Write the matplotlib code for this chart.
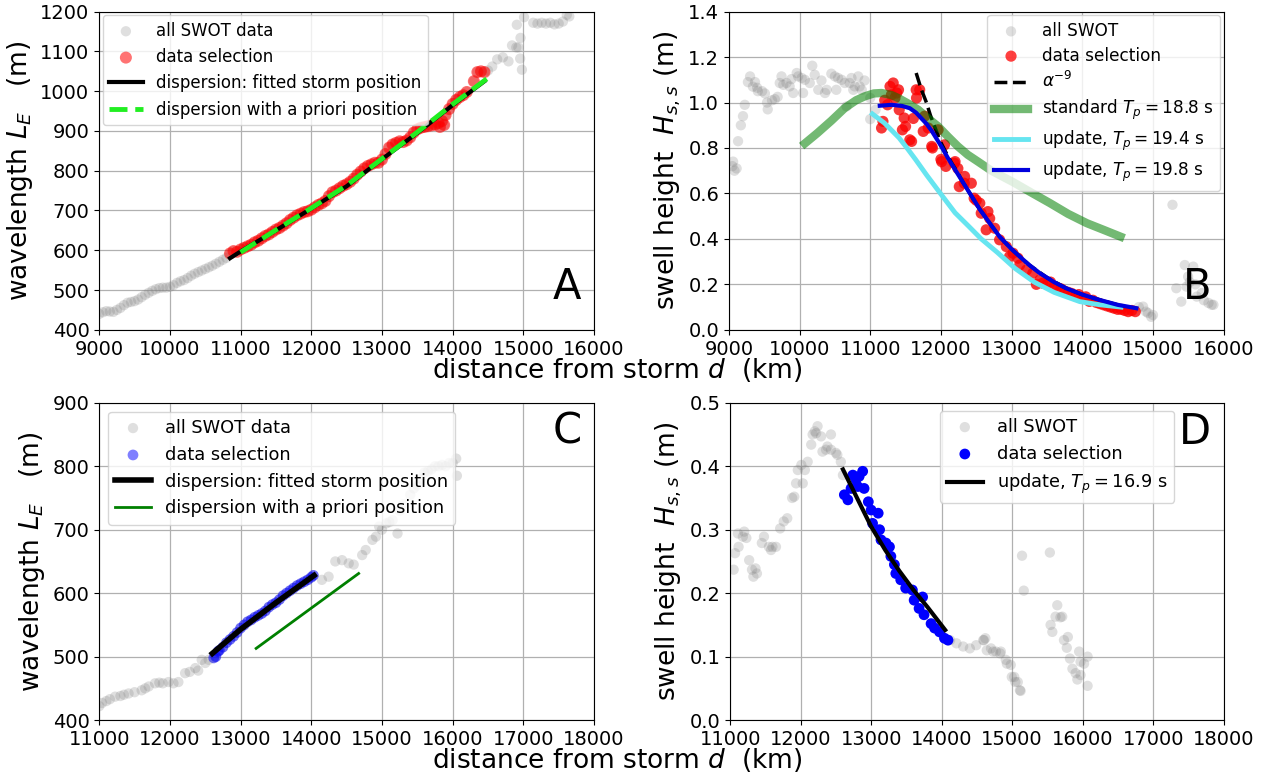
import matplotlib.pyplot as plt

# ---------------- panel A : wavelength vs distance (storm 1)
a_pre_d = [9000, 9050, 9100, 9150, 9200, 9250, 9300, 9350, 9400, 9450, 9500, 9550, 9600, 9650,
           9700, 9750, 9800, 9850, 9900, 9950, 10000, 10050, 10100, 10150, 10200, 10250, 10300,
           10350, 10400, 10450, 10500, 10550, 10600, 10650, 10700, 10750, 10800]
a_pre_L = [440, 444, 447, 446, 445, 450, 455, 462, 468, 470, 472, 476, 482, 488,
           493, 498, 502, 505, 506, 506, 508, 512, 518, 522, 525, 530, 536,
           541, 545, 549, 553, 557, 561, 566, 571, 576, 581]
a_sel_d = [10850, 10900, 10950, 11000, 11050, 11100, 11150, 11200, 11250, 11300, 11350, 11400,
           11450, 11500, 11550, 11600, 11650, 11700, 11750, 11800, 11850, 11900, 11950, 12000,
           12050, 12100, 12150, 12200, 12250, 12300, 12350, 12400, 12450, 12500, 12550, 12600,
           12650, 12700, 12750, 12800, 12850, 12900, 12950, 13000, 13050, 13100, 13150, 13200,
           13250, 13300, 13350, 13400, 13450, 13500, 13550, 13600, 13650, 13700, 13750, 13800,
           13820, 13850, 13880, 13900, 13950, 14000, 14050, 14100, 14150, 14200, 14300, 14350,
           14400, 14450]
a_sel_L = [592, 598, 596, 602, 606, 610, 614, 620, 624, 630, 636, 640,
           646, 652, 656, 662, 668, 676, 682, 688, 692, 696, 698, 702,
           708, 714, 718, 724, 736, 746, 750, 756, 762, 766, 772, 780,
           790, 798, 806, 812, 816, 820, 820, 828, 842, 858, 866, 870,
           874, 872, 876, 884, 896, 904, 908, 910, 912, 914, 916, 920,
           910, 925, 915, 940, 955, 968, 978, 985, 990, 998, 1025, 1048,
           1050, 1048]
a_post_d = [14500, 14560, 14630, 14710, 14790, 14840, 14900, 14930, 14955, 14960, 14980, 14908,
            15010, 15140, 15200, 15260, 15320, 15380, 15440, 15500, 15560, 15615, 15650]
a_post_L = [1052, 1062, 1080, 1085, 1075, 1115, 1110, 1110, 1082, 1134, 1054, 1167,
            1186, 1172, 1170, 1172, 1170, 1172, 1168, 1170, 1175, 1192, 1188]
a_fit_d = [10850, 11000, 11500, 12000, 12500, 13000, 13500, 14000, 14450]
a_fit_L = [580, 597, 650, 705, 761, 829, 895, 965, 1025]
a_prior_d = [11000, 11500, 12000, 12500, 13000, 13500, 14000, 14550]
a_prior_L = [595, 651, 706, 763, 830, 897, 967, 1040]

# ---------------- panel B : swell height vs distance (storm 1)
b_pre_d = [9050, 9060, 9080, 9110, 9130, 9170, 9200, 9225, 9270, 9300, 9340, 9370, 9400, 9410,
           9470, 9510, 9540, 9550, 9610, 9650, 9690, 9720, 9745, 9770, 9815, 9860, 9885, 9910,
           9960, 9980, 10030, 10050, 10075, 10145, 10180, 10215, 10265, 10310, 10360, 10385,
           10450, 10500, 10520, 10545, 10595, 10640, 10665, 10710, 10735, 10760, 10780, 10830,
           10850, 10880, 10920, 11000, 11075, 11000]
b_pre_H = [0.72, 0.74, 0.70, 0.71, 0.83, 0.90, 0.94, 0.99, 1.09, 1.115, 1.07, 1.09, 1.065, 1.05,
           1.05, 1.04, 1.00, 0.97, 1.01, 1.015, 1.025, 1.086, 1.115, 1.078, 1.086, 1.071, 1.103, 1.042,
           1.13, 1.115, 1.108, 1.042, 1.10, 1.086, 1.162, 1.122, 1.056, 1.097, 1.042, 1.056,
           1.127, 1.115, 1.056, 1.108, 1.10, 1.086, 0.983, 1.086, 1.108, 1.056, 1.071, 1.115,
           1.071, 1.056, 1.097, 0.927, 0.968, 1.02]
b_sel_d = [11160, 11180, 11205, 11245, 11280, 11300, 11325, 11350, 11375, 11400, 11410, 11455,
           11480, 11500, 11560, 11585, 11610, 11650, 11655, 11700, 11750, 11770, 11820, 11870,
           11880, 11960, 12000, 12010, 12050, 12070, 12190, 12200, 12240, 12260, 12330, 12335,
           12430, 12470, 12500, 12550, 12570, 12640, 12665, 12690, 12760, 12830, 12925, 12970,
           13020, 13090, 13115, 13210, 13300, 13350, 13400, 13440, 13500, 13550, 13600, 13650,
           13700, 13750, 13800, 13850, 13900, 13950, 14000, 14050, 14100, 14150, 14200, 14250,
           14300, 14350, 14400, 14450, 14500, 14550, 14600, 14650, 14700, 14750]
b_sel_H = [0.888, 0.917, 1.01, 0.99, 1.071, 1.034, 1.086, 1.02, 1.042, 1.056, 0.968, 0.88,
           0.932, 0.895, 0.836, 0.829, 0.93, 1.056, 1.02, 1.056, 0.873, 0.94, 0.888, 0.807,
           0.80, 0.88, 0.75, 0.74, 0.814, 0.719, 0.733, 0.74, 0.71, 0.63, 0.645, 0.675,
           0.645, 0.579, 0.57, 0.557, 0.513, 0.44, 0.52, 0.49, 0.447, 0.396, 0.366, 0.322,
           0.337, 0.315, 0.285, 0.263, 0.249, 0.20, 0.219, 0.205, 0.20, 0.21, 0.19, 0.185,
           0.18, 0.17, 0.165, 0.16, 0.15, 0.155, 0.14, 0.145, 0.125, 0.13, 0.12, 0.115,
           0.11, 0.105, 0.10, 0.095, 0.09, 0.09, 0.085, 0.08, 0.085, 0.08]
b_post_d = [14800, 14860, 14900, 14930, 14975, 15000, 15276, 15330, 15400, 15450, 15475, 15497,
            15520, 15570, 15600, 15620, 15690, 15720, 15785, 15855, 15830]
b_post_H = [0.10, 0.102, 0.08, 0.074, 0.057, 0.065, 0.55, 0.183, 0.124, 0.285, 0.19, 0.234,
            0.21, 0.278, 0.20, 0.146, 0.162, 0.13, 0.118, 0.11, 0.11]
b_alpha_d = [11650, 11720, 11795, 11850, 11910, 11990, 12075, 12150, 12240, 12300, 12430, 12550,
             12700, 12830, 13000, 13250, 13500, 13770, 14000, 14250, 14500]
b_alpha_H = [1.13, 1.06, 1.00, 0.945, 0.895, 0.83, 0.778, 0.735, 0.69, 0.655, 0.59, 0.53,
             0.465, 0.41, 0.355, 0.285, 0.23, 0.183, 0.155, 0.131, 0.11]
b_std_d = [10075, 10250, 10450, 10640, 10800, 10920, 11050, 11160, 11300, 11395, 11540, 11680,
           11820, 11960, 12100, 12240, 12380, 12525, 12715, 13020, 13300, 13545, 13800, 14065,
           14300, 14540]
b_std_H = [0.82, 0.865, 0.92, 0.976, 1.01, 1.027, 1.04, 1.042, 1.033, 1.02, 0.995, 0.968,
           0.93, 0.895, 0.85, 0.807, 0.77, 0.74, 0.70, 0.65, 0.60, 0.557, 0.51, 0.469,
           0.44, 0.41]
b_up194_d = [11030, 11200, 11407, 11520, 11640, 11800, 12017, 12200, 12395, 12570, 12800, 13050,
             13320, 13600, 13965, 14250, 14547]
b_up194_H = [0.95, 0.91, 0.845, 0.80, 0.75, 0.68, 0.59, 0.515, 0.455, 0.40, 0.34, 0.27,
             0.21, 0.165, 0.124, 0.11, 0.10]
b_up198_d = [11135, 11300, 11450, 11560, 11650, 11725, 11800, 11870, 11950, 12010, 12100, 12200,
             12300, 12430, 12550, 12700, 12830, 13000, 13115, 13250, 13400, 13600, 13770, 14000,
             14250, 14500, 14765]
b_up198_H = [0.986, 0.99, 0.985, 0.975, 0.955, 0.93, 0.905, 0.875, 0.835, 0.805, 0.755, 0.705,
             0.655, 0.59, 0.53, 0.465, 0.41, 0.355, 0.322, 0.285, 0.249, 0.21, 0.183, 0.155,
             0.131, 0.11, 0.095]

# ---------------- panel C : wavelength vs distance (storm 2)
c_pre_d = [11000, 11040, 11100, 11150, 11225, 11300, 11350, 11415, 11500, 11600, 11650, 11700,
           11790, 11850, 11900, 11980, 12050, 12120, 12215, 12280, 12360, 12400, 12450, 12500, 12550]
c_pre_L = [422, 427, 430, 433, 437, 438, 440, 442, 444, 447, 450, 453,
           458, 459, 458, 460, 458, 460, 474, 476, 482, 478, 495, 490, 495]
c_sel_d = [12620, 12650, 12680, 12700, 12750, 12800, 12850, 12900, 12950, 13000, 13050, 13100,
           13150, 13200, 13250, 13300, 13350, 13400, 13450, 13500, 13550, 13600, 13650, 13700,
           13750, 13800, 13850, 13900, 13950, 14000, 14030]
c_sel_L = [498, 500, 508, 510, 515, 522, 527, 532, 538, 545, 550, 555,
           558, 562, 565, 568, 572, 578, 582, 585, 590, 596, 600, 604,
           608, 612, 615, 618, 621, 625, 628]
c_post_d = [14150, 14245, 14340, 14435, 14530, 14600, 14720, 14770, 14865, 14915, 14960, 15000,
            15060, 15105, 15220, 15150, 15250, 15300, 15400, 15450, 15500, 15550, 15600, 15650,
            15700, 15750, 15800, 15850, 15900, 15950, 16000, 16050, 16060]
c_post_L = [621, 626, 650, 652, 647, 645, 660, 668, 684, 689, 705, 700,
            710, 712, 694, 715, 730, 740, 755, 765, 770, 780, 790, 792,
            795, 800, 800, 802, 800, 805, 805, 812, 785]
c_fit_d = [12600, 13000, 13500, 14040]
c_fit_L = [505, 543, 585, 628]
c_prior_d = [13220, 14670]
c_prior_L = [513, 631]

# ---------------- panel D : swell height vs distance (storm 2)
d_pre_d = [11050, 11110, 11200, 11180, 11230, 11120, 11070, 11270, 11310, 11360, 11330, 11380,
           11450, 11480, 11550, 11600, 11650, 11580, 11710, 11760, 11810, 11880, 11910, 11935,
           12030, 11960, 12010, 12060, 12100, 12150, 12170, 12220, 12240, 12200, 12290, 12430,
           12310, 12380, 12360, 12430, 12500, 12520, 12570, 12600]
d_pre_H = [0.237, 0.294, 0.297, 0.289, 0.287, 0.273, 0.263, 0.252, 0.237, 0.239, 0.226, 0.231,
           0.279, 0.289, 0.273, 0.273, 0.273, 0.268, 0.302, 0.313, 0.318, 0.35, 0.352, 0.373,
           0.373, 0.394, 0.402, 0.394, 0.407, 0.434, 0.45, 0.452, 0.463, 0.455, 0.447, 0.45,
           0.423, 0.431, 0.426, 0.426, 0.421, 0.418, 0.407, 0.386]
d_sel_d = [12620, 12670, 12740, 12785, 12830, 12880, 12715, 12810, 12900, 12960, 13000, 13100,
           13020, 13120, 13140, 13210, 13260, 13280, 13330, 13350, 13420, 13490, 13585, 13610,
           13730, 13680, 13750, 13850, 13900, 13970, 14040, 14090]
d_sel_H = [0.355, 0.347, 0.386, 0.379, 0.384, 0.392, 0.365, 0.368, 0.365, 0.344, 0.331, 0.326,
           0.31, 0.30, 0.284, 0.279, 0.273, 0.258, 0.245, 0.231, 0.221, 0.208, 0.205, 0.189,
           0.194, 0.176, 0.166, 0.152, 0.145, 0.139, 0.129, 0.126]
d_post_d = [14120, 14210, 14305, 14400, 14490, 14590, 14640, 14730, 14830, 14925, 14995, 15045,
            15110, 14600, 14620, 14700, 14770, 14840, 14910, 14980, 15030, 15080, 15120,
            15140, 15535, 15165, 15640, 15615, 15685, 15710, 15545, 15570, 15735, 15790, 15775,
            15820, 15950, 16070, 15855, 15900, 15970, 16020, 15925, 15970, 16070]
d_post_H = [0.126, 0.121, 0.116, 0.113, 0.118, 0.126, 0.11, 0.108, 0.105, 0.089, 0.068, 0.06,
            0.047, 0.126, 0.129, 0.113, 0.108, 0.108, 0.095, 0.087, 0.068, 0.06, 0.046,
            0.259, 0.264, 0.204, 0.181, 0.163, 0.162, 0.163, 0.15, 0.139, 0.126, 0.131, 0.114,
            0.097, 0.108, 0.10, 0.081, 0.074, 0.092, 0.089, 0.064, 0.071, 0.054]
d_fit_d = [12600, 12800, 13000, 13200, 13400, 13600, 13800, 14050]
d_fit_H = [0.395, 0.35, 0.305, 0.268, 0.235, 0.205, 0.178, 0.142]

GRAY_KW = dict(color="gray", alpha=0.25, s=55, edgecolors="none")
TICK_FS = 14
LAB_FS = 19
LET_FS = 30

fig = plt.figure(figsize=(12.72, 7.76), dpi=100)
axA = fig.add_axes([0.078, 0.575, 0.389, 0.41])
axB = fig.add_axes([0.573, 0.575, 0.389, 0.41])
axC = fig.add_axes([0.078, 0.072, 0.389, 0.409])
axD = fig.add_axes([0.574, 0.072, 0.388, 0.409])

# A
axA.scatter(a_pre_d + a_sel_d + a_post_d, a_pre_L + a_sel_L + a_post_L, label="all SWOT data", **GRAY_KW)
axA.scatter(a_sel_d, a_sel_L, color="red", alpha=0.55, s=75, edgecolors="none", label="data selection")
axA.plot(a_fit_d, a_fit_L, color="black", lw=3, label="dispersion: fitted storm position")
axA.plot(a_prior_d, a_prior_L, color="#22ee22", lw=3.5, ls="--", label="dispersion with a priori position")
axA.set_xlim(9000, 16000)
axA.set_ylim(400, 1200)
axA.set_ylabel("wavelength $L_E$   (m)", fontsize=LAB_FS)
axA.legend(loc="upper left", bbox_to_anchor=(0.0, 1.0), borderaxespad=0.2, fontsize=12)
axA.text(0.975, 0.07, "A", transform=axA.transAxes, ha="right", va="bottom", fontsize=LET_FS)

# B
axB.scatter(b_pre_d + b_sel_d + b_post_d, b_pre_H + b_sel_H + b_post_H, label="all SWOT", **GRAY_KW)
axB.scatter(b_sel_d, b_sel_H, color="red", alpha=0.75, s=65, edgecolors="none", label="data selection")
axB.plot(b_alpha_d, b_alpha_H, color="black", lw=2.5, ls="--", label=r"$\alpha^{-9}$")
axB.plot(b_std_d, b_std_H, color="green", alpha=0.55, lw=6, label="standard $T_p = 18.8$ s")
axB.plot(b_up194_d, b_up194_H, color="#66e5f0", lw=3.5, label="update, $T_p = 19.4$ s")
axB.plot(b_up198_d, b_up198_H, color="#0000dd", lw=3, label="update, $T_p = 19.8$ s")
axB.set_xlim(9000, 16000)
axB.set_ylim(0, 1.4)
axB.set_ylabel("swell height  $H_{s,s}$ (m)", fontsize=LAB_FS)
axB.legend(loc="upper right", bbox_to_anchor=(1.0, 1.0), borderaxespad=0.2, fontsize=12.2,
           labelspacing=0.4)
axB.text(0.975, 0.07, "B", transform=axB.transAxes, ha="right", va="bottom", fontsize=LET_FS)

# C
axC.scatter(c_pre_d + c_sel_d + c_post_d, c_pre_L + c_sel_L + c_post_L, label="all SWOT data", **GRAY_KW)
axC.scatter(c_sel_d, c_sel_L, color="blue", alpha=0.5, s=60, edgecolors="none", label="data selection")
axC.plot(c_fit_d, c_fit_L, color="black", lw=4, label="dispersion: fitted storm position")
axC.plot(c_prior_d, c_prior_L, color="green", lw=2, label="dispersion with a priori position")
axC.set_xlim(11000, 18000)
axC.set_ylim(400, 900)
axC.set_ylabel("wavelength $L_E$   (m)", fontsize=LAB_FS)
axC.legend(loc="upper left", fontsize=12.8)
axC.text(0.975, 0.975, "C", transform=axC.transAxes, ha="right", va="top", fontsize=LET_FS)

# D
axD.scatter(d_pre_d + d_sel_d + d_post_d, d_pre_H + d_sel_H + d_post_H, label="all SWOT", **GRAY_KW)
axD.scatter(d_sel_d, d_sel_H, color="blue", s=60, edgecolors="none", label="data selection")
axD.plot(d_fit_d, d_fit_H, color="black", lw=3, label="update, $T_p = 16.9$ s")
axD.set_xlim(11000, 18000)
axD.set_ylim(0, 0.5)
axD.set_ylabel("swell height  $H_{s,s}$ (m)", fontsize=LAB_FS)
axD.legend(loc="upper right", bbox_to_anchor=(0.9, 0.975), borderaxespad=0.0, fontsize=12.8)
axD.text(0.975, 0.975, "D", transform=axD.transAxes, ha="right", va="top", fontsize=LET_FS)

for ax in (axA, axB, axC, axD):
    ax.grid(True, color="#b0b0b0", lw=0.9)
    ax.set_axisbelow(True)
    ax.tick_params(labelsize=TICK_FS)

fig.text(0.485, 0.523, "distance from storm $d$  (km)", ha="center", va="center", fontsize=LAB_FS)
fig.text(0.485, 0.02, "distance from storm $d$  (km)", ha="center", va="center", fontsize=LAB_FS)

fig.savefig("out.png", dpi=100)
